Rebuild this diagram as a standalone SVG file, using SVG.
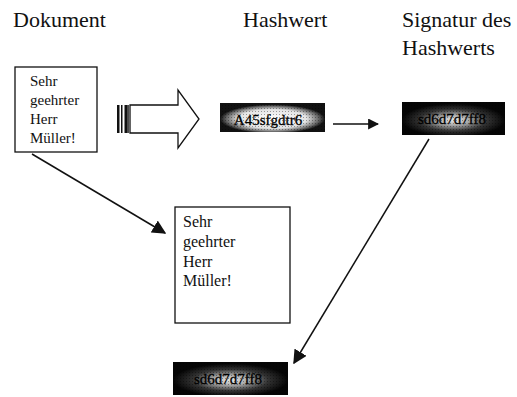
<svg xmlns="http://www.w3.org/2000/svg" width="517" height="397" viewBox="0 0 517 397">
<style>
.lbl{font-family:"Liberation Serif","Times New Roman",serif;font-size:22px;fill:#111}
.doc{font-family:"Liberation Serif","Times New Roman",serif;font-size:15px;fill:#111}
.doc2{font-family:"Liberation Serif","Times New Roman",serif;font-size:16px;fill:#111}
.hash{font-family:"Liberation Serif","Times New Roman",serif;font-size:15px;fill:#000;stroke:#000;stroke-width:0.3}
.box{fill:#fff;stroke:#111;stroke-width:1.3}
.ln{stroke:#111;stroke-width:1.5;fill:none}
</style>
<defs>
<radialGradient id="g1" cx="0.5" cy="0.55" r="0.5">
<stop offset="0" stop-color="#fff"/>
<stop offset="0.65" stop-color="#e4e4e4"/>
<stop offset="0.88" stop-color="#666"/>
<stop offset="1" stop-color="#111"/>
</radialGradient>
<radialGradient id="g2" cx="0.5" cy="0.55" r="0.5">
<stop offset="0" stop-color="#e8e8e8"/>
<stop offset="0.3" stop-color="#aaa"/>
<stop offset="0.65" stop-color="#333"/>
<stop offset="1" stop-color="#050505"/>
</radialGradient>
<pattern id="dots" width="3" height="3" patternUnits="userSpaceOnUse">
<rect x="0" y="0" width="1" height="1" fill="#000" fill-opacity="0.35"/>
</pattern>
<marker id="ah" viewBox="0 0 10 10" refX="9" refY="5" markerWidth="11" markerHeight="11" markerUnits="userSpaceOnUse" orient="auto">
<path d="M0,0 L10,5 L0,10 z" fill="#111"/>
</marker>
<marker id="ah2" viewBox="0 0 10 10" refX="9" refY="5" markerWidth="14" markerHeight="14" markerUnits="userSpaceOnUse" orient="auto">
<path d="M0,0 L10,5 L0,10 z" fill="#111"/>
</marker>
</defs>

<g id="labels">
<text class="lbl" x="13" y="27">Dokument</text>
<text class="lbl" x="243" y="27">Hashwert</text>
<text class="lbl" x="402" y="27">Signatur des</text>
<text class="lbl" x="402" y="55">Hashwerts</text>
</g>

<g id="doc1">
<rect class="box" x="15" y="67" width="82" height="85"/>
<text class="doc" x="30" y="86">Sehr</text>
<text class="doc" x="30" y="105">geehrter</text>
<text class="doc" x="30" y="124">Herr</text>
<text class="doc" x="30" y="143">Müller!</text>
</g>

<g id="blockarrow">
<rect x="117" y="105" width="2.5" height="28" fill="#111"/>
<rect x="121" y="105" width="1.5" height="28" fill="#111"/>
<rect x="124.5" y="105" width="2.5" height="28" fill="#111"/>
<path d="M130,105 L178,105 L178,90 L199,119 L178,148 L178,133 L130,133 Z" fill="#fff" stroke="#111" stroke-width="1.3"/>
<line x1="128" y1="105" x2="128" y2="133" stroke="#111" stroke-width="1.5"/>
</g>

<g id="hash">
<rect x="220" y="103" width="105" height="29" fill="url(#g1)"/>
<rect x="220" y="103" width="105" height="29" fill="url(#dots)"/>
<text class="hash" x="268" y="125" text-anchor="middle">A45sfgdtr6</text>
</g>

<g id="sig">
<rect x="402" y="102" width="103" height="33" fill="url(#g2)"/>
<rect x="402" y="102" width="103" height="33" fill="url(#dots)"/>
<text class="hash" x="452" y="124" text-anchor="middle">sd6d7d7ff8</text>
</g>

<g id="doc2">
<rect class="box" x="175" y="207" width="115" height="116"/>
<text class="doc2" x="183" y="227">Sehr</text>
<text class="doc2" x="183" y="247">geehrter</text>
<text class="doc2" x="183" y="267">Herr</text>
<text class="doc2" x="183" y="286">Müller!</text>
</g>

<g id="sig2">
<rect x="173" y="362" width="115" height="33" fill="url(#g2)"/>
<rect x="173" y="362" width="115" height="33" fill="url(#dots)"/>
<text class="hash" x="228" y="384" text-anchor="middle">sd6d7d7ff8</text>
</g>

<g id="connectors">
<line class="ln" x1="333" y1="124" x2="378" y2="124" marker-end="url(#ah)"/>
<line class="ln" x1="32" y1="154" x2="165" y2="233" marker-end="url(#ah2)"/>
<line class="ln" x1="429" y1="139" x2="294" y2="363" marker-end="url(#ah2)"/>
</g>
</svg>
